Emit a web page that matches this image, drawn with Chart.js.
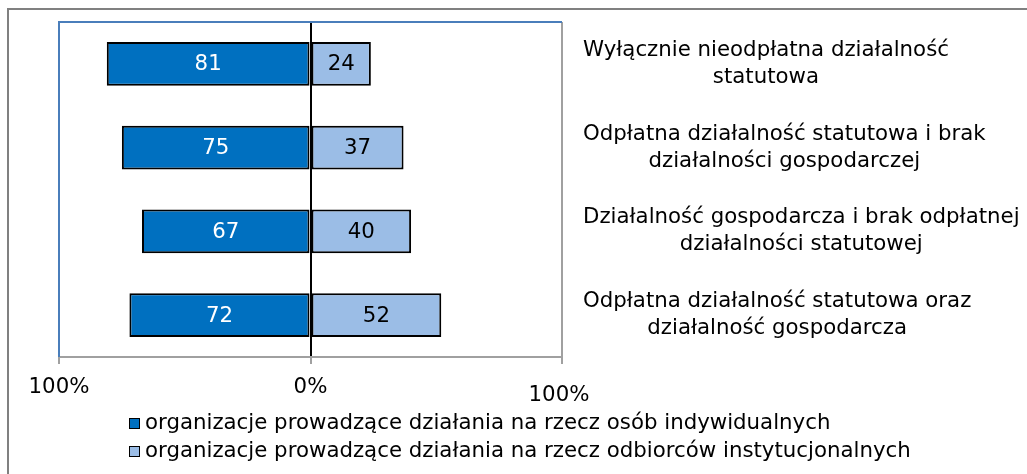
<!DOCTYPE html>
<html lang="pl">
<head>
<meta charset="utf-8">
<script src="https://cdn.jsdelivr.net/npm/chart.js@4"></script>
<style>
  html, body { margin: 0; padding: 0; background: #fff; }
  #wrap { position: relative; width: 1027px; height: 474px; overflow: hidden; }
  /* outer frame of the figure */
  #frame { position: absolute; left: 7px; top: 8px; width: 1100px; height: 600px; border: 2px solid #808080; }
  #chart-box { position: absolute; left: 0; top: 0; width: 1027px; height: 474px; }
</style>
</head>
<body>
<div id="wrap">
  <div id="frame"></div>
  <div id="chart-box"><canvas id="forms-chart"></canvas></div>
</div>

<script>
  // categories (right-hand labels)
  const categories = [
    ['Wyłącznie nieodpłatna działalność', 'statutowa'],
    ['Odpłatna działalność statutowa i brak', 'działalności gospodarczej'],
    ['Działalność gospodarcza i brak odpłatnej', 'działalności statutowej'],
    ['Odpłatna działalność statutowa oraz', 'działalność gospodarcza']
  ];
  // series values (%)
  const individualValues = [81, 75, 67, 72];
  const institutionalValues = [24, 37, 40, 52];
  const seriesNames = [
    'organizacje prowadzące działania na rzecz osób indywidualnych',
    'organizacje prowadzące działania na rzecz odbiorców instytucjonalnych'
  ];
  // x axis ticks
  const axisTicks = [-100, 0, 100];
  const axisTickLabels = ['100%', '0%', '100%'];

  const FONT = "'DejaVu Sans', Verdana, sans-serif";
  const FONT_SIZE = 21.3;
  Chart.defaults.font.family = FONT;
  Chart.defaults.font.size = FONT_SIZE;
  Chart.defaults.color = '#000';

  const darkBlue = '#0070C0';
  const lightBlue = '#9BBDE6';
  const frameBlue = '#4A7EBB';
  const axisGray = '#A0A0A0';

  // plot frame, data labels, axis labels, category labels and legend
  const extrasPlugin = {
    id: 'extras',
    beforeDatasetsDraw(chart) {
      const { ctx, chartArea: a } = chart;
      ctx.save();
      ctx.strokeStyle = frameBlue;
      ctx.lineWidth = 2;
      ctx.beginPath();
      ctx.moveTo(a.left, a.bottom);
      ctx.lineTo(a.left, a.top);
      ctx.lineTo(a.right, a.top);
      ctx.stroke();
      ctx.restore();
    },
    afterDatasetsDraw(chart) {
      const { ctx } = chart;
      ctx.save();
      ctx.font = FONT_SIZE + 'px ' + FONT;
      ctx.textAlign = 'center';
      ctx.textBaseline = 'middle';
      chart.data.datasets.forEach((ds, di) => {
        const meta = chart.getDatasetMeta(di);
        ctx.fillStyle = di === 0 ? '#fff' : '#000';
        meta.data.forEach((bar, i) => {
          const v = Math.abs(ds.data[i]);
          ctx.fillText(String(v), (bar.x + bar.base) / 2, bar.y + 1);
        });
      });
      ctx.restore();
    },
    afterDraw(chart) {
      const { ctx, chartArea: a } = chart;
      const xs = chart.scales.x;
      const ys = chart.scales.y;
      ctx.save();
      ctx.font = FONT_SIZE + 'px ' + FONT;
      ctx.fillStyle = '#000';
      ctx.textBaseline = 'middle';

      // x tick labels (the last one sits a bit lower, as in the original)
      ctx.textAlign = 'center';
      axisTicks.forEach((v, i) => {
        const dy = i === axisTicks.length - 1 ? 8 : 0;
        const dx = i === axisTicks.length - 1 ? -3 : 0;
        ctx.fillText(axisTickLabels[i], xs.getPixelForValue(v) + dx, a.bottom + 30 + dy);
      });

      // category labels on the right, lines centred within each block
      const lineH = 27;
      categories.forEach((lines, i) => {
        const yc = ys.getPixelForValue(i);
        const w = Math.max(...lines.map(l => ctx.measureText(l).width));
        const cx = a.right + 21 + w / 2;
        lines.forEach((l, k) => {
          ctx.fillText(l, cx, yc + (k - (lines.length - 1) / 2) * lineH);
        });
      });

      // legend
      ctx.textAlign = 'left';
      chart.data.datasets.forEach((ds, di) => {
        const y = a.bottom + 66 + di * 28;
        ctx.fillStyle = ds.backgroundColor;
        ctx.fillRect(129, y - 5, 11, 11);
        ctx.strokeStyle = '#000';
        ctx.lineWidth = 1;
        ctx.strokeRect(129.5, y - 4.5, 10, 10);
        ctx.fillStyle = '#000';
        ctx.fillText(ds.label, 145, y);
      });
      ctx.restore();
    }
  };

  const chartData = {
    labels: categories,
    datasets: [
      {
        label: seriesNames[0],
        data: individualValues.map(v => -v),
        backgroundColor: darkBlue,
        borderColor: '#000',
        borderWidth: 2,
        borderSkipped: false,
        barPercentage: 0.52,
        categoryPercentage: 1
      },
      {
        label: seriesNames[1],
        data: institutionalValues,
        backgroundColor: lightBlue,
        borderColor: '#000',
        borderWidth: 2,
        borderSkipped: false,
        barPercentage: 0.52,
        categoryPercentage: 1
      }
    ]
  };

  new Chart(document.getElementById('forms-chart'), {
    type: 'bar',
    data: chartData,
    plugins: [extrasPlugin],
    options: {
      indexAxis: 'y',
      responsive: true,
      maintainAspectRatio: false,
      animation: false,
      layout: { padding: { left: 59, top: 22, right: 465, bottom: 110 } },
      plugins: {
        legend: { display: false },
        tooltip: { enabled: false },
        title: { display: false }
      },
      scales: {
        x: {
          stacked: true,
          min: -100,
          max: 100,
          afterBuildTicks: (scale) => { scale.ticks = axisTicks.map(v => ({ value: v })); },
          ticks: { display: false },
          grid: {
            color: (c) => {
              const v = c.tick ? c.tick.value : null;
              if (v === 0) return '#000';
              if (v === 100) return axisGray;
              return frameBlue;
            },
            lineWidth: 2,
            tickLength: 7,
            tickColor: axisGray
          },
          border: { color: axisGray, width: 2 }
        },
        y: {
          stacked: true,
          display: false
        }
      }
    }
  });
</script>
</body>
</html>
